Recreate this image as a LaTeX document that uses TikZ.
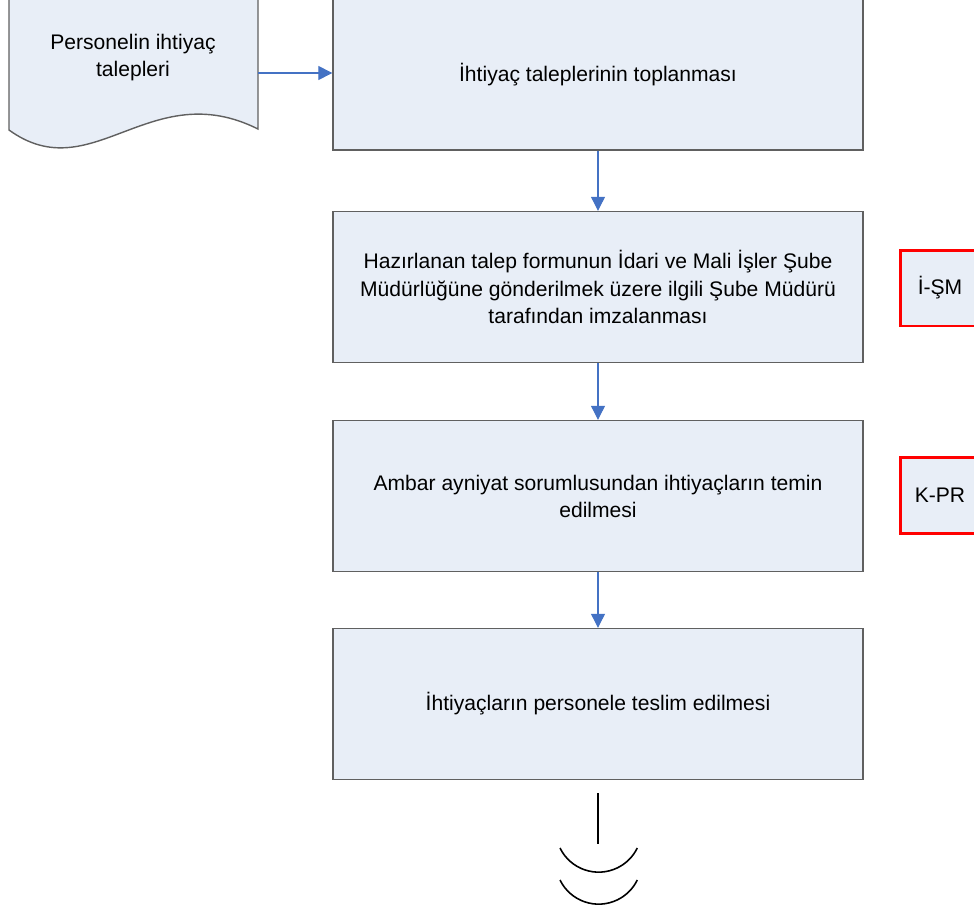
\documentclass[tikz,border=0pt]{standalone}
\usepackage{fontspec}
\setmainfont{Liberation Sans}
\usetikzlibrary{arrows.meta}
\definecolor{boxfill}{RGB}{232,238,247}
\definecolor{boxline}{RGB}{96,96,96}
\definecolor{flowblue}{RGB}{68,114,196}
\tikzset{
  process/.style={draw=boxline, line width=0.8pt, fill=boxfill,
    minimum width=10.6cm, minimum height=3.02cm, align=center,
    font=\fontsize{12}{15.4}\selectfont},
  unitbox/.style={draw=red, line width=1.7pt, fill=boxfill,
    minimum width=1.6cm, minimum height=1.52cm,
    font=\fontsize{12}{15.4}\selectfont},
  flow/.style={-{Triangle[width=0.28cm,length=0.28cm]}, flowblue, line width=0.6pt}
}
\begin{document}
\begin{tikzpicture}[x=0.02cm,y=-0.02cm]
\useasboundingbox (0,0) rectangle (974,906);
% Document shape (top cut off)
\draw[boxline, line width=0.8pt, fill=boxfill]
  (9,-10) -- (9,130) .. controls (92,190) and (150,75) .. (258,129) -- (258,-10);
\node[align=center, font=\fontsize{12}{15.4}\selectfont] (doc) at (133,58)
  {Personelin ihtiyaç\\talepleri};
\coordinate (docout) at (258,73);
% Process boxes
\node[process] (collect) at (598,74.5) {İhtiyaç taleplerinin toplanması};
\node[process] (sign) at (598,287)
  {Hazırlanan talep formunun İdari ve Mali İşler Şube\\
   Müdürlüğüne gönderilmek üzere ilgili Şube Müdürü\\
   tarafından imzalanması};
\node[process] (supply) at (598,496)
  {Ambar ayniyat sorumlusundan ihtiyaçların temin\\edilmesi};
\node[process] (deliver) at (598,704) {İhtiyaçların personele teslim edilmesi};
% Responsible units
\node[unitbox] (ism) at (940,288) {İ-ŞM};
\node[unitbox] (kpr) at (940,495.5) {K-PR};
% Flow arrows
\draw[flow] (docout) -- (docout -| collect.west);
\draw[flow] (collect) -- (sign);
\draw[flow] (sign) -- (supply);
\draw[flow] (supply) -- (deliver);
% Terminal symbol
\coordinate (endtop) at (598,793);
\coordinate (endbot) at (598,844);
\draw[line width=0.9pt] (endtop) -- (endbot);
\draw[line width=0.9pt] (560,848) arc[start angle=206, end angle=334, radius=0.86cm];
\draw[line width=0.9pt] (560,880) arc[start angle=206, end angle=334, radius=0.86cm];
\end{tikzpicture}
\end{document}
